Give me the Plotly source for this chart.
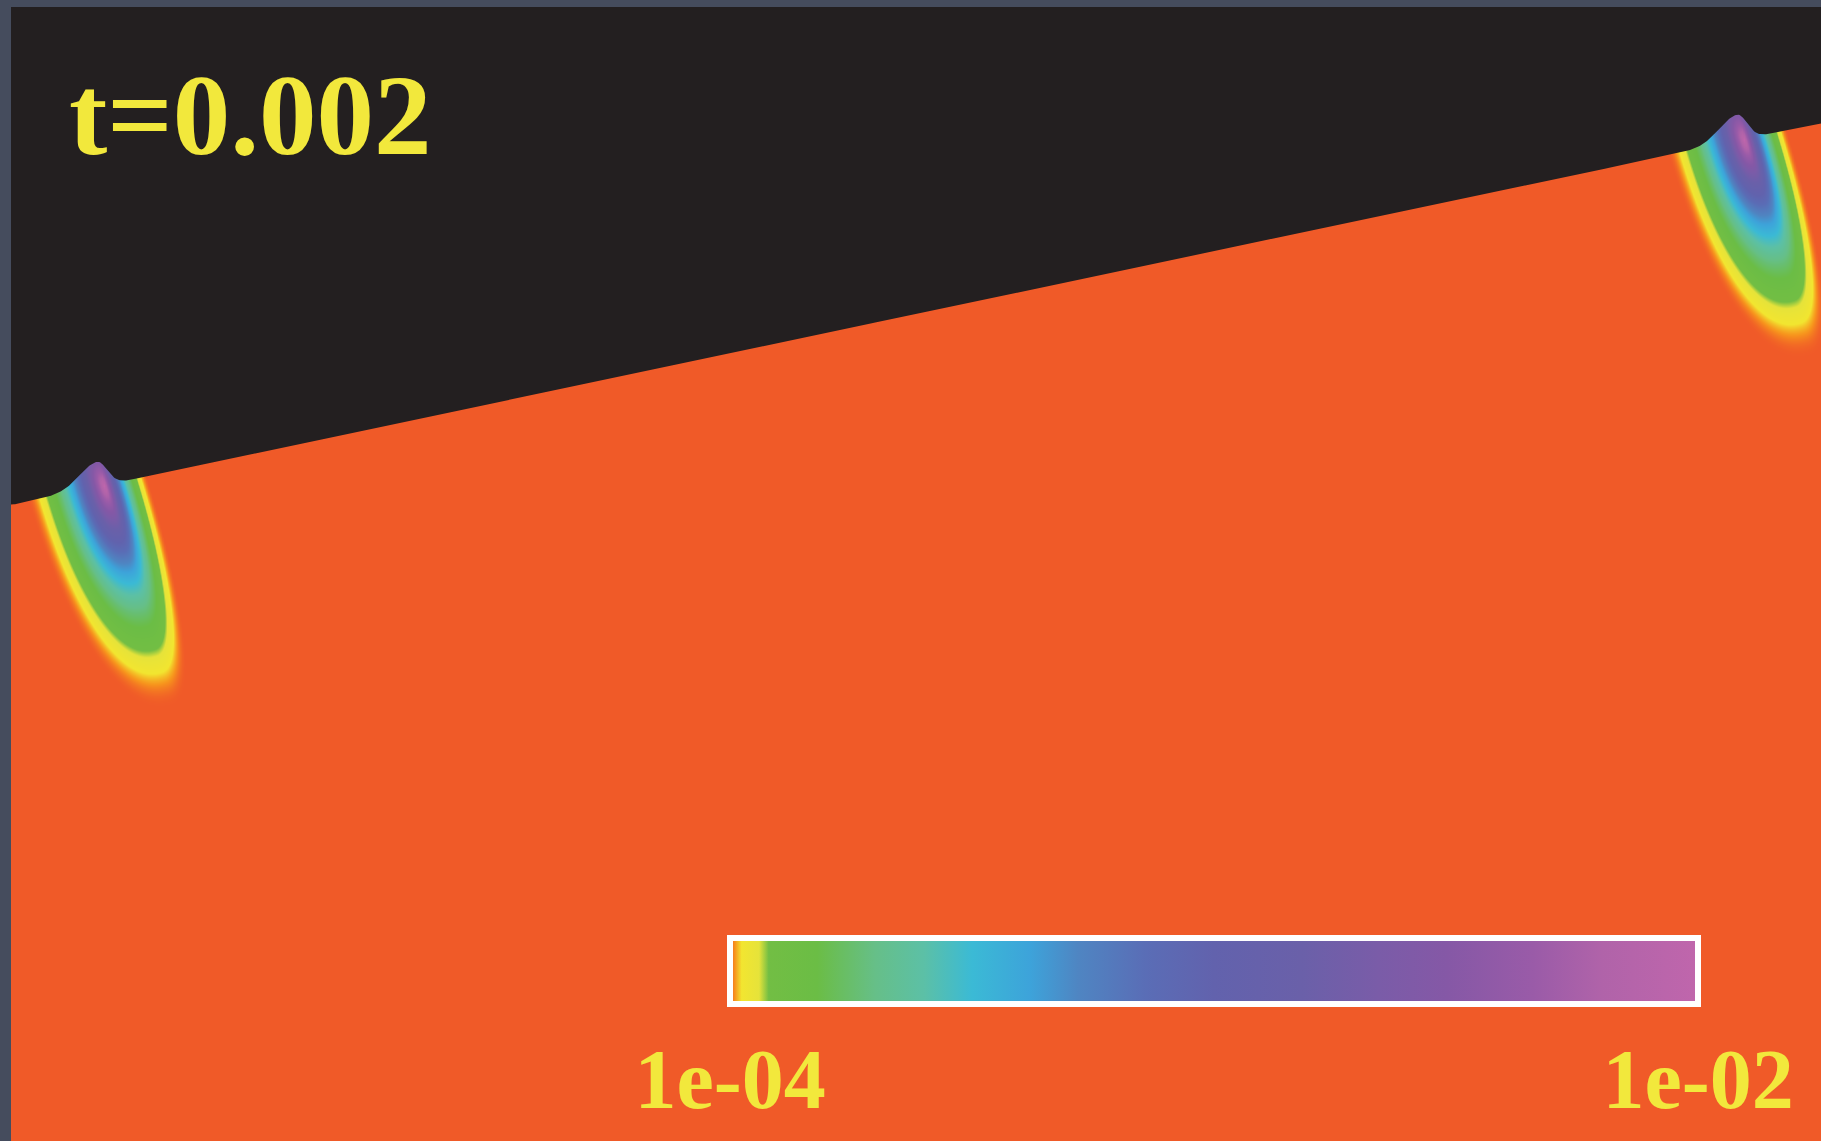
import numpy as np
import plotly.graph_objects as go

# ---------------- data (plot units: x to the right, depth y downward) ----------------
domain_x = [0, 1810]
domain_y = [0, 1134]

# free surface (straight sloping line), end points
surface_x = [0, 1810]
surface_y = [498, 116]

# two identical plumes of concentration below the surface
plume_core_x = [93, 1733]
plume_tilt_deg = [17, 17]
plume_depth = [232, 228]
plume_up = [200, 200]
plume_half_left = [78, 78]
plume_half_right = [44, 44]
plume_power = [2.4, 2.4]
plume_shape = [2.2, 2.2]

# small mound of the surface above each plume
bump_x = [86, 1726]
bump_height = [25, 26]
bump_sigma_left = [25, 25]
bump_sigma_right = [14, 14]

# colour scale: log10 concentration from 1e-04 to 1e-02
zmin, zmax = -4, -2
cbar_tickvals = [-4, -2]
cbar_ticktext = ["1e-04", "1e-02"]
time_label = "t=0.002"

scale_pos = [0.0, 0.005, 0.012, 0.03, 0.04, 0.09, 0.15, 0.2, 0.25, 0.31, 0.36,
             0.43, 0.5, 0.59, 0.67, 0.74, 0.83, 0.9, 1.0]
scale_col = ["#F05A28", "#F7941D", "#F2E530", "#E6E33A", "#72BE44", "#6BBD45",
             "#66BF88", "#5CC0A6", "#3BBAD5", "#3DA3DA", "#4F85C2", "#5A6DB6",
             "#6262AD", "#6A60A9", "#7A5CA8", "#8558A6", "#9A5BA8", "#B063A9",
             "#C066AC"]
colorscale = [[p, c] for p, c in zip(scale_pos, scale_col)]

BG_ORANGE = "#F05A28"
AIR_BLACK = "#231F20"
TEXT_YELLOW = "#F2E83C"
FRAME = "#454C5D"


def surface(x):
    return np.interp(x, surface_x, surface_y)


def bumpy_surface(x):
    y = surface(x)
    for bx, bh, sl, sr in zip(bump_x, bump_height, bump_sigma_left, bump_sigma_right):
        sig = np.where(x < bx, sl, sr)
        y = y - bh * np.exp(-((x - bx) / sig) ** 2)
    return y


fig = go.Figure()

for i, cx in enumerate(plume_core_x):
    cy = float(surface(cx))
    gx = np.arange(cx - 120, cx + 140, 2.0)
    gy = np.arange(cy - 50, cy + 260, 2.0)
    X, Y = np.meshgrid(gx, gy)
    t = np.deg2rad(plume_tilt_deg[i])
    dx, dy = X - cx, Y - cy
    s = dx * np.sin(t) + dy * np.cos(t)
    n = dx * np.cos(t) - dy * np.sin(t)
    A = np.where(s > 0, plume_depth[i], plume_up[i])
    B = np.where(n > 0, plume_half_right[i], plume_half_left[i])
    q = plume_shape[i]
    r = (np.abs(s / A) ** q + np.abs(n / B) ** q) ** (1 / q)
    f = np.clip(1 - r, 0, 1) ** plume_power[i]
    z = np.where(f > 0, zmin + (zmax - zmin) * f, zmin - 0.5)
    fig.add_trace(go.Heatmap(
        x=gx, y=gy, z=z, zmin=zmin, zmax=zmax, zsmooth="best",
        colorscale=colorscale, hoverinfo="skip",
        showscale=(i == 0),
        colorbar=dict(
            orientation="h", lenmode="pixels", len=968, thickness=66,
            x=(730 - 11) / 1810, xanchor="left",
            y=(1141 - 938) / 1134, yanchor="top",
            xpad=0, ypad=0,
            outlinecolor="white", outlinewidth=6,
            tickvals=cbar_tickvals, ticktext=cbar_ticktext,
            ticks="",
            tickfont=dict(family="Liberation Serif", size=84, color=TEXT_YELLOW,
                          weight="bold"),
        ),
    ))

# air region above the (bumpy) surface
sx = np.arange(domain_x[0] - 5, domain_x[1] + 6, 1.0)
sy = bumpy_surface(sx)
air_x = np.concatenate([sx, [domain_x[1] + 5, domain_x[0] - 5]])
air_y = np.concatenate([sy, [domain_y[0] - 10, domain_y[0] - 10]])
fig.add_trace(go.Scatter(
    x=air_x, y=air_y, mode="lines", fill="toself", fillcolor=AIR_BLACK,
    line=dict(width=0, color=AIR_BLACK), hoverinfo="skip", showlegend=False,
))

fig.add_annotation(
    x=56, y=108, xref="x", yref="y", text=time_label, showarrow=False,
    xanchor="left", yanchor="middle",
    font=dict(family="Liberation Serif", size=115, color=TEXT_YELLOW, weight="bold"),
)

fig.update_layout(
    width=1821, height=1141,
    margin=dict(l=11, r=0, t=7, b=0, pad=0, autoexpand=False),
    paper_bgcolor=FRAME, plot_bgcolor=BG_ORANGE,
    showlegend=False,
    xaxis=dict(range=domain_x, visible=False, showgrid=False, zeroline=False),
    yaxis=dict(range=[domain_y[1], domain_y[0]], visible=False, showgrid=False,
               zeroline=False),
)

fig.write_html("out.html")
